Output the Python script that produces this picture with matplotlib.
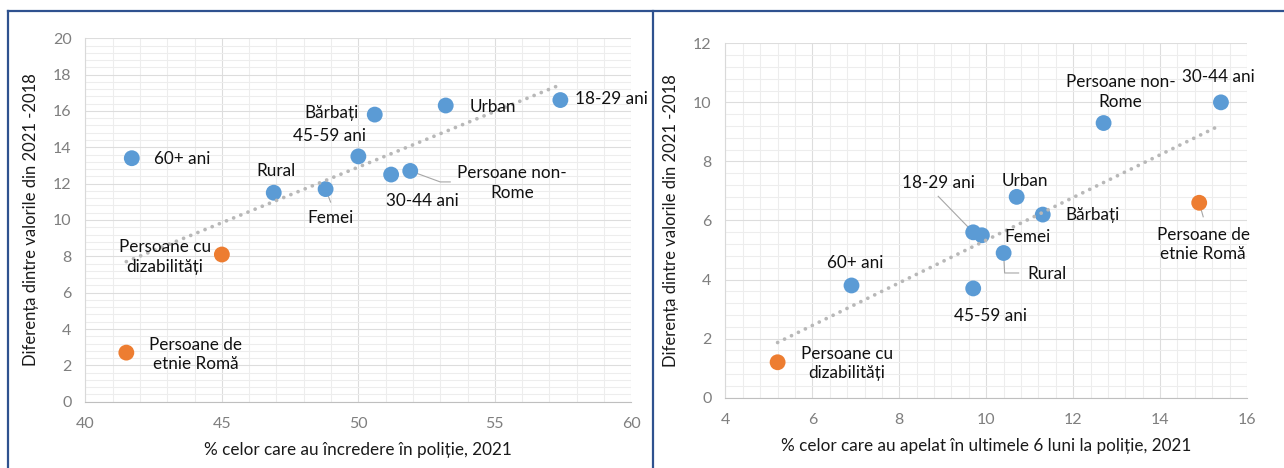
import numpy as np
import matplotlib
matplotlib.use("Agg")
import matplotlib.pyplot as plt
from matplotlib.lines import Line2D
from matplotlib.transforms import IdentityTransform
from matplotlib.ticker import MultipleLocator

plt.rcParams['font.family'] = ['Lato', 'DejaVu Sans']

# ---- data: left chart (trust in police) ----
left_labels = ['60+ ani', 'Rural', 'Femei', '45-59 ani', 'Bărbați', '30-44 ani',
               'Persoane non-\nRome', 'Urban', '18-29 ani']
left_x = [41.7, 46.9, 48.8, 50.0, 50.6, 51.2, 51.9, 53.2, 57.4]
left_y = [13.4, 11.5, 11.7, 13.5, 15.8, 12.5, 12.7, 16.3, 16.6]
left_vuln_labels = ['Persoane de\netnie Romă', 'Persoane cu\ndizabilități']
left_vuln_x = [41.5, 45.0]
left_vuln_y = [2.7, 8.1]

# ---- data: right chart (contacted police in last 6 months) ----
right_labels = ['60+ ani', '45-59 ani', '18-29 ani', 'Femei', 'Rural', 'Urban',
                'Bărbați', 'Persoane non-\nRome', '30-44 ani']
right_x = [6.9, 9.7, 9.7, 9.9, 10.4, 10.7, 11.3, 12.7, 15.4]
right_y = [3.8, 3.7, 5.6, 5.5, 4.9, 6.8, 6.2, 9.3, 10.0]
right_vuln_labels = ['Persoane de\netnie Romă', 'Persoane cu\ndizabilități']
right_vuln_x = [14.9, 5.2]
right_vuln_y = [6.6, 1.2]

ylabel = 'Diferența dintre valorile din 2021 -2018'
left_xlabel = '% celor care au încredere în poliție, 2021'
right_xlabel = '% celor care au apelat în ultimele 6 luni la poliție, 2021'

BLUE = '#5B9BD5'
ORANGE = '#ED7D31'

# label offsets in pixels (dx, dy) from the point
left_offsets = {
    '60+ ani': (50, -1), 'Rural': (2, 22), 'Femei': (5, -29), '45-59 ani': (-29, 20),
    'Bărbați': (-43, 2), '30-44 ani': (31, -26), 'Persoane non-\nRome': (102, -12),
    'Urban': (47, -1), '18-29 ani': (51, 1),
    'Persoane de\netnie Romă': (69, -1.5), 'Persoane cu\ndizabilități': (-57, -2.5),
}
right_offsets = {
    '60+ ani': (4, 22), '45-59 ani': (17, -27.5), '18-29 ani': (-35, 49), 'Femei': (46, -1.5),
    'Rural': (43, -21), 'Urban': (8, 16), 'Bărbați': (50, 0), 'Persoane non-\nRome': (17, 31),
    '30-44 ani': (-3, 25), 'Persoane de\netnie Romă': (4, -42), 'Persoane cu\ndizabilități': (69, -1),
}
# leader lines, pixel offsets from the point
left_leaders = {'Femei': [(0, 0), (5, -13)],
                'Persoane non-\nRome': [(0, 0), (30, -11), (40, -11)]}
right_leaders = {'18-29 ani': [(0, 0), (-35, 36)],
                 'Rural': [(0, 0), (1, -20), (15, -20)],
                 'Persoane de\netnie Romă': [(0, 0), (4, -14)]}

fig = plt.figure(figsize=(12.84, 4.68), dpi=100)


def draw_panel(ax, xs, ys, labs, vx, vy, vlabs, offsets, leaders, xlim, ylim, xmaj, xmin_, xlabel):
    ax.set_xlim(*xlim)
    ax.set_ylim(*ylim)
    ax.xaxis.set_major_locator(MultipleLocator(xmaj))
    ax.xaxis.set_minor_locator(MultipleLocator(xmin_))
    ax.yaxis.set_major_locator(MultipleLocator(2))
    ax.yaxis.set_minor_locator(MultipleLocator(0.4))
    ax.grid(which='major', color='#DDDDDD', lw=0.8, zorder=0)
    ax.grid(which='minor', color='#EDEDED', lw=0.8, zorder=0)
    ax.set_axisbelow(True)
    for s in ['top', 'right']:
        ax.spines[s].set_visible(False)
    ax.spines['left'].set_color('#D9D9D9')
    ax.spines['bottom'].set_color('#BFBFBF')
    ax.tick_params(which='both', length=0, labelsize=11.5, labelcolor='#7F7F7F')
    ax.tick_params(axis='x', pad=11)
    ax.tick_params(axis='y', pad=10)
    ax.set_xlabel(xlabel, fontsize=12.3, color='#1a1a1a', labelpad=8)
    ax.set_ylabel(ylabel, fontsize=12, color='#1a1a1a', labelpad=10)

    ax.scatter(xs, ys, s=130, color=BLUE, edgecolors='none', zorder=3)
    ax.scatter(vx, vy, s=130, color=ORANGE, edgecolors='none', zorder=3)

    # linear trendline over all points
    allx = np.array(xs + vx)
    ally = np.array(ys + vy)
    k, b = np.polyfit(allx, ally, 1)
    tx = np.array([allx.min(), allx.max()])
    ax.plot(tx, k * tx + b, color='#B8B8B8', lw=2.7, ls=(0, (0.01, 2.05)),
            dash_capstyle='round', zorder=4)

    fig.canvas.draw()
    for x, y, lab in zip(xs + vx, ys + vy, labs + vlabs):
        dx, dy = offsets[lab]
        ax.annotate(lab, (x, y), xytext=(dx * 0.72, dy * 0.72), textcoords='offset points',
                    ha='center', va='center', fontsize=12.3, color='#111111',
                    linespacing=1.25, zorder=5)
        if lab in leaders:
            px, py = ax.transData.transform((x, y))
            pts = np.array(leaders[lab], dtype=float)
            ax.add_line(Line2D(px + pts[:, 0], py + pts[:, 1], transform=IdentityTransform(),
                               color='#A6A6A6', lw=0.8, zorder=2))


axl = fig.add_axes([0.0665, 0.1417, 0.4252, 0.7765])
draw_panel(axl, left_x, left_y, left_labels, left_vuln_x, left_vuln_y, left_vuln_labels,
           left_offsets, left_leaders, (40, 60), (0, 20), 5, 1, left_xlabel)

axr = fig.add_axes([0.5650, 0.1502, 0.4062, 0.7573])
draw_panel(axr, right_x, right_y, right_labels, right_vuln_x, right_vuln_y, right_vuln_labels,
           right_offsets, right_leaders, (4, 16), (0, 12), 2, 0.4, right_xlabel)

# panel borders
border = '#2F528F'
fig.add_artist(Line2D([8 / 1284, 8 / 1284], [0, 1 - 11 / 468], color=border, lw=1.6))
fig.add_artist(Line2D([8 / 1284, 1], [1 - 11 / 468, 1 - 11 / 468], color=border, lw=1.6))
fig.add_artist(Line2D([653 / 1284, 653 / 1284], [0, 1 - 11 / 468], color=border, lw=1.6))

fig.savefig('out.png', dpi=100)
